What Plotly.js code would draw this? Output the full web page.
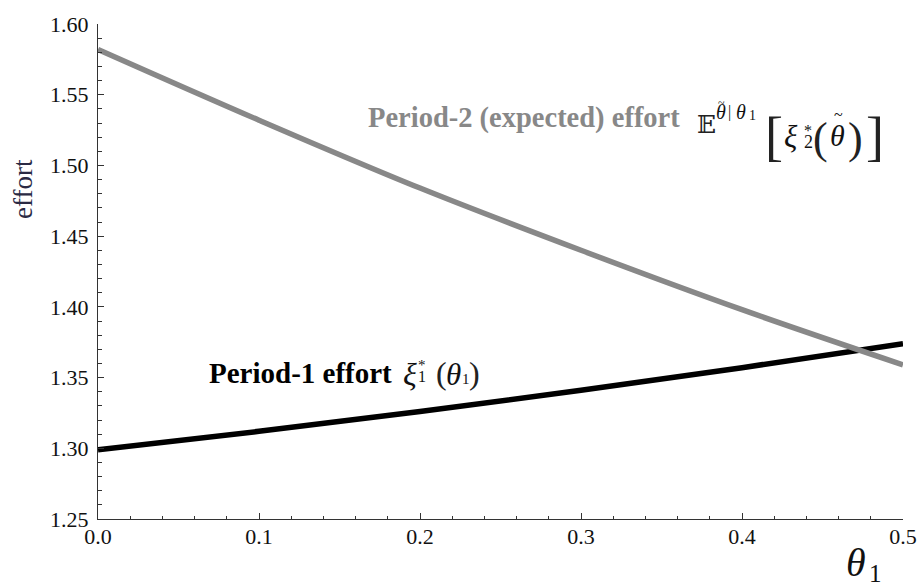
<!DOCTYPE html>
<html>
<head>
<meta charset="utf-8">
<script src="https://cdn.plot.ly/plotly-3.0.1.min.js"></script>
<style>html,body{margin:0;padding:0;background:#fff;}#chart{width:922px;height:586px;}</style>
</head>
<body>
<div id="chart"></div>
<script>
// ---- data ----
const theta = [0.0, 0.1, 0.2, 0.3, 0.4, 0.5];
const period2Effort = [1.582, 1.532, 1.484, 1.440, 1.398, 1.359];
const period1Effort = [1.299, 1.312, 1.326, 1.341, 1.357, 1.374];
const xTickVals = [0.0, 0.1, 0.2, 0.3, 0.4, 0.5];
const yTickVals = [1.25, 1.30, 1.35, 1.40, 1.45, 1.50, 1.55, 1.60];

// ---- geometry ----
const L = 98, R = 19, T = 24, B = 67, W = 922, H = 586;
const PW = W - L - R, PH = H - T - B;
function P(px, py) { return { x: (px - L) / PW, y: (H - B - py) / PH }; }

const SERIF = "Liberation Serif, Times New Roman, serif";

function ann(px, py, text, size, opts) {
  const p = P(px, py);
  const o = opts || {};
  return {
    xref: "paper", yref: "paper", x: p.x, y: p.y,
    text: text, showarrow: false,
    xanchor: o.xanchor || "center", yanchor: "middle",
    textangle: o.textangle || 0,
    borderpad: 0,
    font: { family: o.family || SERIF, size: size, color: o.color || "#111" }
  };
}

const annotations = [
  // axis titles
  ann(23, 189, "effort", 27, { textangle: -90, color: "#2a2a44" }),
  ann(856, 562, "<i>θ</i>", 40),
  ann(875, 573, "1", 25),

  // Period-2 label
  ann(367, 118, "<b>Period-2 (expected) effort</b>", 28.5, { xanchor: "left", color: "#888888" }),
  ann(706, 125, "𝔼", 25, { family: "DejaVu Serif", color: "#222" }),
  ann(721, 112, "<i>θ</i>", 20),
  ann(721, 103, "~", 12),
  ann(729, 112, "|", 16),
  ann(741, 112, "<i>θ</i>", 20),
  ann(752, 116, "1", 14),
  ann(774, 137, "[", 54, { color: "#222" }),
  ann(791, 136, "<i>ξ</i>", 31),
  ann(808, 131, "*", 16),
  ann(808, 142, "2", 18),
  ann(820, 138, "(", 44, { color: "#222" }),
  ann(837, 135, "<i>θ</i>", 30),
  ann(838, 115, "~", 16),
  ann(855, 138, ")", 44, { color: "#222" }),
  ann(875, 137, "]", 54, { color: "#222" }),

  // Period-1 label
  ann(208, 373, "<b>Period-1 effort</b>", 29, { xanchor: "left", color: "#000" }),
  ann(410, 374, "<i>ξ</i>", 32),
  ann(422, 365, "*", 15),
  ann(422, 377, "1", 16),
  ann(441, 373, "(", 32, { color: "#222" }),
  ann(453, 374, "<i>θ</i>", 31),
  ann(466, 379, "1", 15),
  ann(474, 373, ")", 32, { color: "#222" })
];

const traces = [
  {
    x: theta, y: period1Effort, type: "scatter", mode: "lines",
    line: { color: "#000000", width: 5.5, shape: "spline" },
    name: "Period-1 effort", showlegend: false, hoverinfo: "skip"
  },
  {
    x: theta, y: period2Effort, type: "scatter", mode: "lines",
    line: { color: "#888888", width: 5.5, shape: "spline" },
    name: "Period-2 (expected) effort", showlegend: false, hoverinfo: "skip"
  }
];

const axisCommon = {
  showgrid: false, zeroline: false,
  showline: true, linecolor: "#333", linewidth: 1,
  ticks: "inside", ticklen: 6, tickwidth: 1, tickcolor: "#333",
  tickfont: { family: SERIF, size: 22, color: "#111" },
  mirror: false
};

const layout = {
  width: W, height: H,
  margin: { l: L, r: R, t: T, b: B, pad: 0 },
  paper_bgcolor: "#fff", plot_bgcolor: "#fff",
  showlegend: false,
  xaxis: Object.assign({}, axisCommon, {
    range: [0, 0.5], tickmode: "array", tickvals: xTickVals,
    ticktext: xTickVals.map(v => v.toFixed(1)),
    minor: { dtick: 0.02, tick0: 0, ticks: "inside", ticklen: 3.5, tickwidth: 1, tickcolor: "#333" },
    ticklabelstandoff: -2
  }),
  yaxis: Object.assign({}, axisCommon, {
    range: [1.25, 1.60], tickmode: "array", tickvals: yTickVals,
    ticktext: yTickVals.map(v => v.toFixed(2)),
    minor: { dtick: 0.01, tick0: 1.25, ticks: "inside", ticklen: 3.5, tickwidth: 1, tickcolor: "#333" },
    ticklabelstandoff: 4
  }),
  annotations: annotations
};

Plotly.newPlot("chart", traces, layout, { staticPlot: true, displayModeBar: false });
</script>
</body>
</html>
